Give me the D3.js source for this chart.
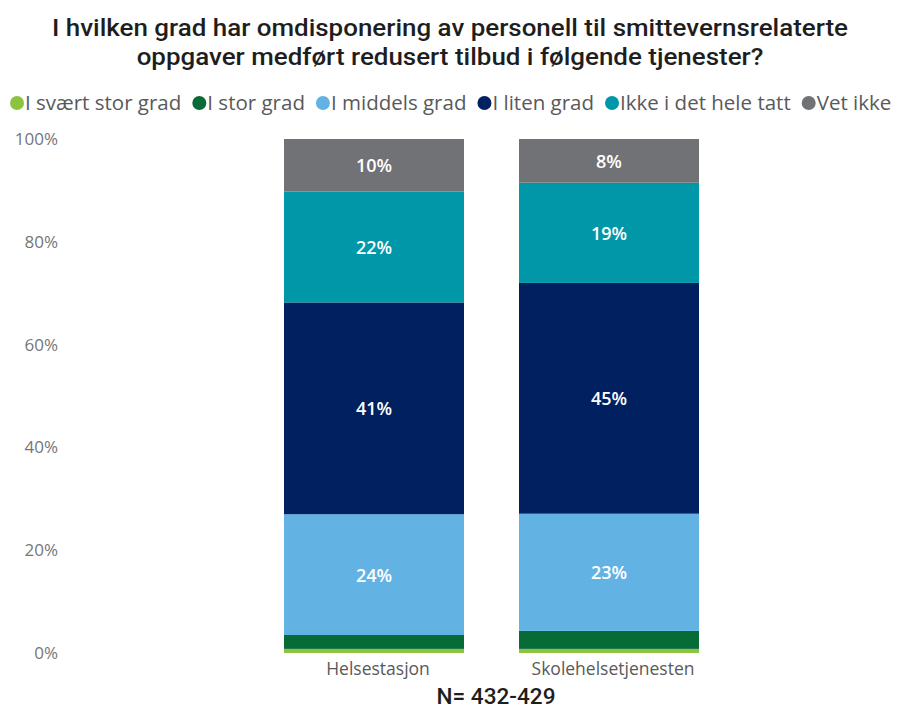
<!DOCTYPE html>
<html>
<head>
<meta charset="utf-8">
<script src="https://cdn.jsdelivr.net/npm/d3@7"></script>
<style>
  body { margin: 0; background: #fff; }
  svg { display: block; }
</style>
</head>
<body>
<div id="chart"></div>
<script>
// kategorier og serier (prosent)
const categories = ["Helsestasjon", "Skolehelsetjenesten"];
const seriesNames = ["I svært stor grad", "I stor grad", "I middels grad", "I liten grad", "Ikke i det hele tatt", "Vet ikke"];
const seriesColors = ["#8cc43f", "#066b37", "#62b3e4", "#00205f", "#0097a9", "#717276"];
const svaertStor = [0.8, 0.8];
const stor = [2.7, 3.5];
const middels = [23.5, 22.8];
const liten = [41.2, 44.9];
const ikke = [21.6, 19.5];
const vetIkke = [10.2, 8.5];
const labels = [
  [null, null, "24%", "41%", "22%", "10%"],
  [null, null, "23%", "45%", "19%", "8%"]
];
const yTicks = [0, 20, 40, 60, 80, 100];
const titleLines = [
  "I hvilken grad har omdisponering av personell til smittevernsrelaterte",
  "oppgaver medført redusert tilbud i følgende tjenester?"
];
const nText = "N= 432-429";

const seriesValues = [svaertStor, stor, middels, liten, ikke, vetIkke];
const keys = seriesNames;
const table = categories.map((c, i) => {
  const row = { cat: c, idx: i };
  keys.forEach((k, j) => row[k] = seriesValues[j][i]);
  return row;
});

const width = 897, height = 709;
const svg = d3.select("#chart").append("svg")
  .attr("width", width).attr("height", height);

// tittel - smal skrift etterlignes med textLength
const title = svg.append("g").selectAll("text")
  .data(titleLines)
  .join("text")
  .attr("x", 450)
  .attr("y", (d, i) => 36 + i * 29)
  .attr("text-anchor", "middle")
  .attr("font-family", "Roboto")
  .attr("font-weight", 500)
  .attr("font-size", 24)
  .attr("fill", "#1e1e1e")
  .text(d => d);
const w0 = title.nodes()[0].getComputedTextLength();
const squeeze = 796 / w0;
title.each(function () {
  const w = this.getComputedTextLength();
  d3.select(this).attr("textLength", w * squeeze).attr("lengthAdjust", "spacingAndGlyphs");
});

// legende
const legend = svg.append("g").attr("font-family", "Open Sans").attr("font-size", 20.5).attr("fill", "#595959");
let lx = 10;
seriesNames.forEach((name, i) => {
  legend.append("circle").attr("cx", lx + 7).attr("cy", 103).attr("r", 7).attr("fill", seriesColors[i]);
  const t = legend.append("text").attr("x", lx + 15).attr("y", 110).text(name);
  lx += 15 + t.node().getComputedTextLength() + 11;
});

const x = d3.scaleBand().domain(categories).range([284, 699]).paddingInner(55 / 235);
const y = d3.scaleLinear().domain([0, 100]).range([653, 139]);

// y-akse
const yAxis = svg.append("g")
  .attr("transform", "translate(58,0)")
  .call(d3.axisLeft(y).tickValues(yTicks).tickFormat(d => d + "%").tickSize(0).tickPadding(0));
yAxis.select(".domain").remove();
yAxis.selectAll("text")
  .attr("font-family", "Open Sans")
  .attr("font-size", 17)
  .attr("fill", "#767676");

const stack = d3.stack().keys(keys)(table);

const layers = svg.append("g").selectAll("g")
  .data(stack)
  .join("g")
  .attr("fill", (d, i) => seriesColors[i]);

layers.selectAll("rect")
  .data(d => d)
  .join("rect")
  .attr("x", d => x(d.data.cat))
  .attr("y", d => y(d[1]))
  .attr("width", x.bandwidth())
  .attr("height", d => y(d[0]) - y(d[1]));

// dataetiketter
stack.forEach((layer, si) => {
  layer.forEach((d, ci) => {
    const lab = labels[ci][si];
    if (!lab) return;
    svg.append("text")
      .attr("x", x(d.data.cat) + x.bandwidth() / 2)
      .attr("y", (y(d[0]) + y(d[1])) / 2 + 7)
      .attr("text-anchor", "middle")
      .attr("font-family", "Open Sans")
      .attr("font-weight", 600)
      .attr("font-size", 18)
      .attr("fill", "#ffffff")
      .text(lab);
  });
});

// x-akse
const xAxis = svg.append("g")
  .attr("transform", "translate(4,653)")
  .call(d3.axisBottom(x).tickSize(0).tickPadding(8));
xAxis.select(".domain").remove();
xAxis.selectAll("text")
  .attr("font-family", "Open Sans")
  .attr("font-size", 17.5)
  .attr("fill", "#595959")
  .attr("dy", "0.8em");

const nLabel = svg.append("text")
  .attr("x", 496)
  .attr("y", 704)
  .attr("text-anchor", "middle")
  .attr("font-family", "Roboto")
  .attr("font-weight", 500)
  .attr("font-size", 22)
  .attr("fill", "#1e1e1e")
  .text(nText);
nLabel.attr("textLength", 119).attr("lengthAdjust", "spacingAndGlyphs");
</script>
</body>
</html>
